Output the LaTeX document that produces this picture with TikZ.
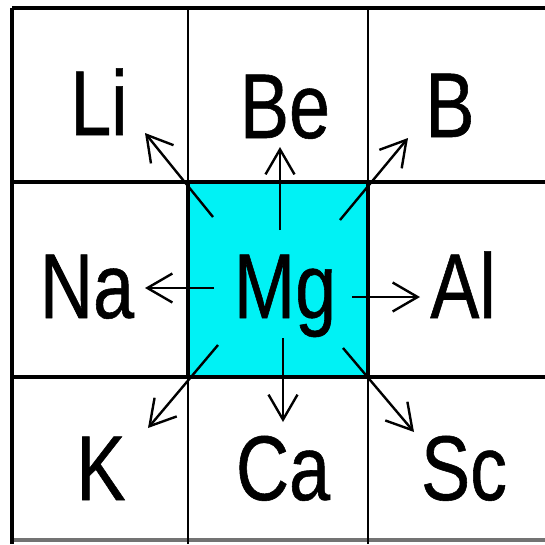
\documentclass[tikz,border=0pt]{standalone}
\usepackage{fontspec}
\newfontfamily\elemfont[FakeStretch=0.8,FakeBold=0.6]{Liberation Sans}
\usetikzlibrary{arrows.meta}
\definecolor{mgcyan}{RGB}{0,242,245}
\begin{document}
\begin{tikzpicture}[x=1pt,y=-1pt,
  elem/.style={font=\elemfont\fontsize{92}{92}\selectfont,anchor=base,inner sep=0pt},
  arr/.style={-{Straight Barb[length=25pt,width=29pt]},line width=2.4pt},
  gridline/.style={line width=3.2pt}]
\useasboundingbox (0,0) rectangle (545,544);
% centre cell and grid
\filldraw[fill=mgcyan,line width=4.5pt] (188,182) rectangle (368,377);
\draw[gridline] (12,8)--(545,8);\draw[gridline] (12,182)--(545,182);\draw[gridline] (12,377)--(545,377);
\draw[gridline,black!55] (12,540)--(545,540);
\draw[gridline] (12,8)--(12,544);\draw[line width=2.8pt] (188,8)--(188,544);\draw[line width=2.8pt] (368,8)--(368,544);
% elements
\node[elem] (li) at (99,135) {Li};
\node[elem] (be) at (285,138) {Be};
\node[elem] (b) at (450,137) {B};
\node[elem] (na) at (87,318) {Na};
\node[elem] (mg) at (285,318) {Mg};
\node[elem] (al) at (463,318) {Al};
\node[elem] (k) at (101,500) {K};
\node[elem] (ca) at (283,500) {Ca};
\node[elem] (sc) at (464,500) {Sc};
% arrows out of Mg
\foreach \nm/\sx/\sy/\ex/\ey in {nw/213/217/145/133,n/280/230/280/147,ne/340/220/408/138,w/214/288/145/288,e/352/297/420/297,sw/218/345/148/428,s/283/338/283/422,se/343/348/414/432}{
  \coordinate (\nm-s) at (\sx,\sy);\coordinate (\nm-e) at (\ex,\ey);
  \draw[arr] (\nm-s)--(\nm-e);}
\end{tikzpicture}
\end{document}
